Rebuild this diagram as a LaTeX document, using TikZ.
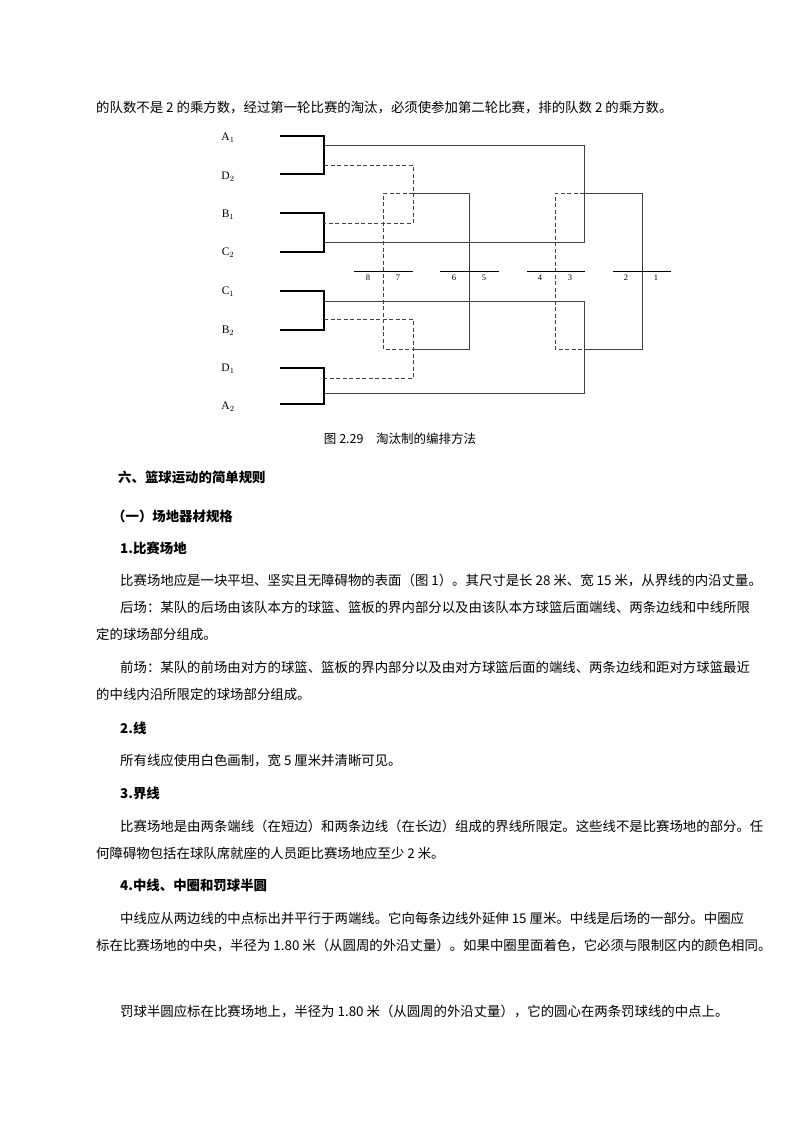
\documentclass[tikz,border=0pt]{standalone}
\usepackage{fontspec}
\setmainfont{Liberation Serif}
\newfontfamily\cjk{Noto Sans CJK SC}
\begin{document}
\begin{tikzpicture}[x=1pt,y=-1pt,
  txt/.style={anchor=base west,inner sep=0pt,font=\cjk\fontsize{13.4}{15}\selectfont},
  hd/.style={txt,font=\cjk\bfseries\fontsize{13.4}{15}\selectfont},
  lab/.style={inner sep=0pt,font=\fontsize{11.5}{13}\selectfont},
  num/.style={inner sep=0pt,font=\fontsize{8.5}{10}\selectfont},
  br/.style={line width=1.6pt},
  sl/.style={line width=0.8pt,black!75},
  dl/.style={line width=0.9pt,black!75,dash pattern=on 4pt off 2.5pt}]
\useasboundingbox (0,0) rectangle (800,1132);
\fill[white] (0,0) rectangle (800,1132);
% text
\node[txt] (t1) at (96,112) {的队数不是 2 的乘方数，经过第一轮比赛的淘汰，必须使参加第二轮比赛，排的队数 2 的乘方数。};
\node[txt,font=\cjk\fontsize{12.5}{14}\selectfont,anchor=base] (cap) at (400,443) {图 2.29\quad 淘汰制的编排方法};
\node[hd] (h1) at (118,482) {六、篮球运动的简单规则};
\node[hd] (h2) at (112,521) {（一）场地器材规格};
\node[hd] (h3) at (120,553) {1.比赛场地};
\node[txt] (p1) at (120,585) {比赛场地应是一块平坦、坚实且无障碍物的表面（图 1）。其尺寸是长 28 米、宽 15 米，从界线的内沿丈量。};
\node[txt] (p2) at (120,612) {后场：某队的后场由该队本方的球篮、篮板的界内部分以及由该队本方球篮后面端线、两条边线和中线所限};
\node[txt] (p3) at (96,639) {定的球场部分组成。};
\node[txt] (p4) at (120,672) {前场：某队的前场由对方的球篮、篮板的界内部分以及由对方球篮后面的端线、两条边线和距对方球篮最近};
\node[txt] (p5) at (96,699) {的中线内沿所限定的球场部分组成。};
\node[hd] (h4) at (120,733) {2.线};
\node[txt] (p6) at (120,765) {所有线应使用白色画制，宽 5 厘米并清晰可见。};
\node[hd] (h5) at (120,798) {3.界线};
\node[txt] (p7) at (120,831) {比赛场地是由两条端线（在短边）和两条边线（在长边）组成的界线所限定。这些线不是比赛场地的部分。任};
\node[txt] (p8) at (96,858) {何障碍物包括在球队席就座的人员距比赛场地应至少 2 米。};
\node[hd] (h6) at (120,890) {4.中线、中圈和罚球半圆};
\node[txt] (p9) at (120,923) {中线应从两边线的中点标出并平行于两端线。它向每条边线外延伸 15 厘米。中线是后场的一部分。中圈应};
\node[txt] (p10) at (96,950) {标在比赛场地的中央，半径为 1.80 米（从圆周的外沿丈量）。如果中圈里面着色，它必须与限制区内的颜色相同。};
\node[txt] (p11) at (120,1016) {罚球半圆应标在比赛场地上，半径为 1.80 米（从圆周的外沿丈量），它的圆心在两条罚球线的中点上。};
% labels
\node[lab] (A1) at (228,138) {A$_1$};
\node[lab] (D2) at (228,177) {D$_2$};
\node[lab] (B1) at (228,215) {B$_1$};
\node[lab] (C2) at (228,253) {C$_2$};
\node[lab] (C1) at (228,292) {C$_1$};
\node[lab] (B2) at (228,331) {B$_2$};
\node[lab] (D1) at (228,369) {D$_1$};
\node[lab] (A2) at (228,407) {A$_2$};
% brackets
\draw[br] (280,136) -- (324,136) -- (324,174) -- (280,174);
\draw[br] (280,213) -- (324,213) -- (324,252) -- (280,252);
\draw[br] (280,291) -- (324,291) -- (324,330) -- (280,330);
\draw[br] (280,368) -- (324,368) -- (324,404) -- (280,404);
% solid connectors
\draw[sl] (324,145) -- (584,145) -- (584,242) -- (324,242);
\draw[sl] (324,301) -- (584,301) -- (584,393) -- (324,393);
\draw[sl] (413,193) -- (469,193) -- (469,349) -- (413,349);
\draw[sl] (584,193) -- (642,193) -- (642,349) -- (584,349);
% dashed connectors
\draw[dl] (324,165) -- (413,165) -- (413,223) -- (324,223);
\draw[dl] (324,319) -- (413,319) -- (413,378) -- (324,378);
\draw[dl] (413,193) -- (383,193) -- (383,349) -- (413,349);
\draw[dl] (584,193) -- (555,193) -- (555,349) -- (584,349);
% bars
\foreach \a/\b in {354/413,440/499,527/585,613/671} \draw[line width=0.9pt] (\a,271) -- (\b,271);
\foreach \n/\xx in {8/368,7/398,6/454,5/484,4/540,3/570,2/626,1/656} \node[num] (n\n) at (\xx,278) {\n};
\end{tikzpicture}
\end{document}
